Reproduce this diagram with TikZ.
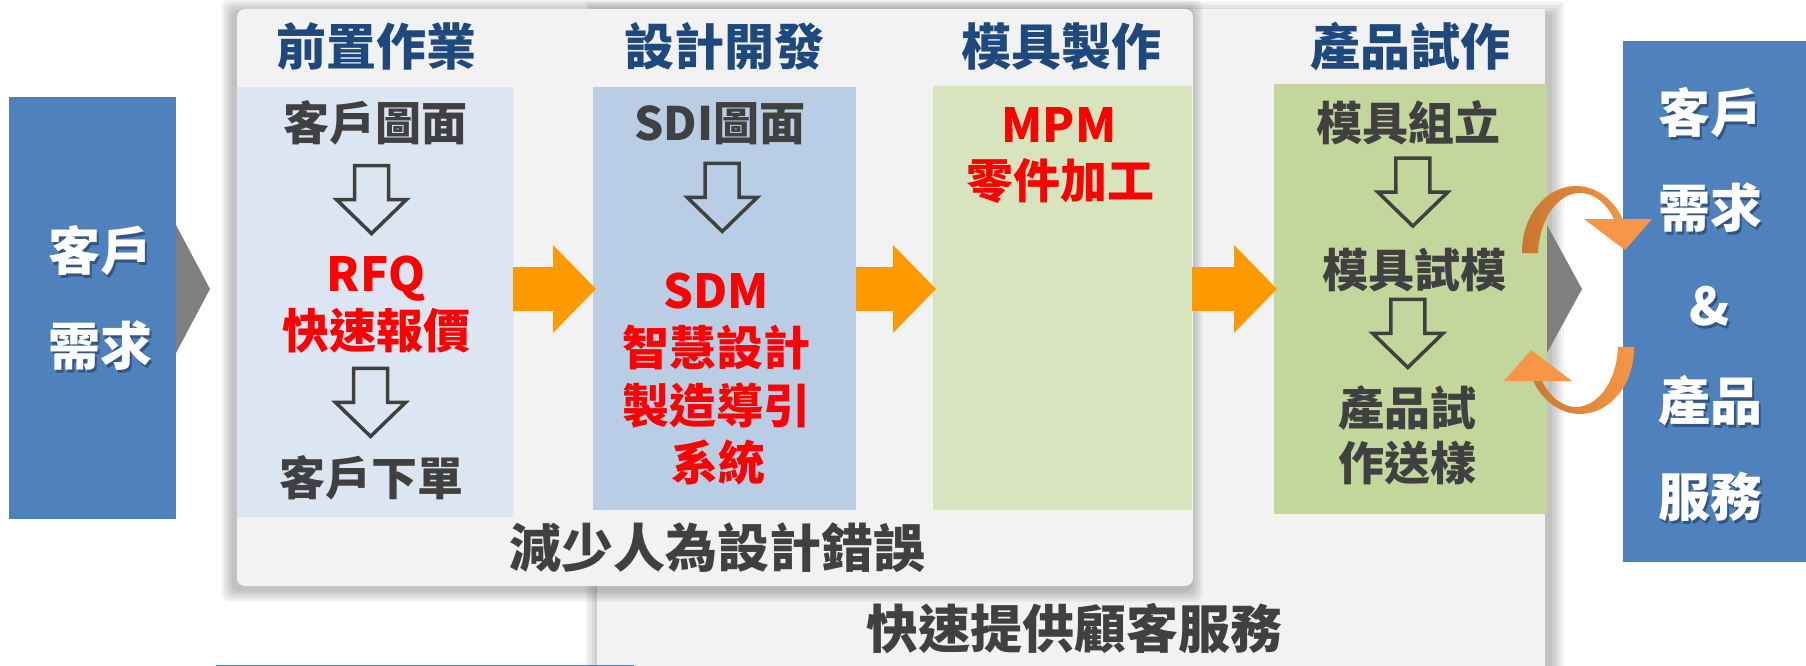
\documentclass[tikz,border=0pt]{standalone}
\usepackage{fontspec}
\setmainfont{Noto Sans CJK TC}
\usetikzlibrary{calc}
\definecolor{panel}{HTML}{F2F2F2}
\definecolor{titleblue}{HTML}{1F497D}
\definecolor{txt}{HTML}{404040}
\definecolor{lbA}{HTML}{DCE6F2}
\definecolor{lbB}{HTML}{B9CDE5}
\definecolor{lgA}{HTML}{D7E4BD}
\definecolor{lgB}{HTML}{C3D69B}
\definecolor{sideblue}{HTML}{4F81BD}
\definecolor{chev}{HTML}{7F7F7F}
\definecolor{arrorange}{HTML}{FF9900}
\definecolor{loopl}{HTML}{F79646}
\definecolor{loopd}{HTML}{C8772F}
\definecolor{redt}{HTML}{FF0000}
\definecolor{lineblue}{HTML}{3C7DD9}
\definecolor{shadowc}{HTML}{1F3050}
\tikzset{
  pics/dnarr/.style={code={
    \draw[draw=txt, line width=3.5pt, line join=miter]
      (-17,-34) -- (17,-34) -- (17,0) -- (35,0) -- (0,34) -- (-35,0) -- (-17,0) -- cycle;
  }},
}
\newcommand{\orarrow}[2]{%
  \fill[arrorange] ($(#1.east|-ay)+(0,-22)$) -- ($(#2.west|-ay)+(-40,-22)$) -- ($(#2.west|-ay)+(-40,-44)$)
    -- ($(#2.west|-ay)+(3,0)$) -- ($(#2.west|-ay)+(-40,44)$) -- ($(#2.west|-ay)+(-40,22)$)
    -- ($(#1.east|-ay)+(0,22)$) -- cycle;}
\newcommand{\looparc}{%
  \begin{scope}
    \clip (1500,140) -- (1665,140) -- (1665,219) -- (1578,219) -- (1578,253) -- (1500,253) -- cycle;
    \shade[left color=loopd, middle color=loopd!55!loopl, right color=loopl, even odd rule]
      (1576,252) ellipse[x radius=54, y radius=66] (1580,256) ellipse[x radius=42, y radius=63];
  \end{scope}
  \fill[loopl] (1584,219) -- (1652,219) -- (1625,250) -- cycle;}
\begin{document}
\begin{tikzpicture}[x=1pt,y=-1pt,
  every node/.style={inner sep=0pt, outer sep=0pt},
  tx/.style={anchor=center},
  title/.style={tx, text height=43pt, text depth=6pt, font=\fontsize{50}{56}\selectfont\bfseries, text=titleblue},
  body/.style={tx, text height=39.6pt, text depth=5.5pt, font=\fontsize{46}{52}\selectfont\bfseries, text=txt},
  hot/.style={tx, text height=40.4pt, text depth=5.6pt, font=\fontsize{47}{53}\selectfont\bfseries, text=redt},
  side/.style={tx, text height=44.7pt, text depth=6.2pt, font=\fontsize{52}{58}\selectfont\bfseries, text=white},
  sideshadow/.style={side, text=shadowc, opacity=0.55},
  big/.style={tx, text height=44.7pt, text depth=6.2pt, font=\fontsize{52}{58}\selectfont\bfseries, text=txt},
  box/.style={anchor=north west, draw=none},
]
\useasboundingbox (0,0) rectangle (1806,666);
\fill[white] (0,0) rectangle (1806,666);
\coordinate (ay) at (0,289);

% lower panel with shadow
\foreach \i in {1,...,5}{
  \fill[black,opacity=0.05] (601-3*\i, 17-3*\i) rectangle (1549+3*\i, 700);
}
\node[box, fill=panel, minimum width=948, minimum height=700] (lower) at (597,9) {};

% upper panel with shadow
\foreach \i in {1,...,5}{
  \fill[black,opacity=0.05,rounded corners=8] (234-2.5*\i, 12-2.5*\i) rectangle (1190+2.5*\i, 589+2.5*\i);
}
\node[box, fill=panel, rounded corners=8, minimum width=956, minimum height=577] (upper) at (237,9) {};

% chevrons
\fill[chev] (168,225) -- (176,225) -- (210,289) -- (176,353) -- (168,353) -- cycle;
\fill[chev] (1547,225) -- (1582,289) -- (1547,353) -- cycle;

% side boxes
\node[box, fill=sideblue, minimum width=167, minimum height=422] (cust) at (9,97) {};
\node[box, fill=sideblue, minimum width=183, minimum height=521] (serv) at (1623,41) {};

% stage boxes
\node[box, fill=lbA, minimum width=276, minimum height=430] (b1) at (237,87) {};
\node[box, fill=lbB, minimum width=263, minimum height=423] (b2) at (593,87) {};
\node[box, fill=lgA, minimum width=259, minimum height=424] (b3) at (933,86) {};
\node[box, fill=lgB, minimum width=273, minimum height=430] (b4) at (1274,84) {};

% titles
\node[title] (h1) at (376,47) {前置作業};
\node[title] (h2) at (724,47) {設計開發};
\node[title] (h3) at (1061,47) {模具製作};
\node[title] (h4) at (1410,47) {產品試作};

% box 1
\node[body] (a1) at (375,123) {客戶圖面};
\node[hot] (a2) at (376,274) {RFQ};
\node[hot] (a3) at (376,331) {快速報價};
\node[body] (a4) at (371,478) {客戶下單};
\pic at ($(a1)!0.507!(a2)+(-4,0)$) {dnarr};
\pic at ($(a3)!0.486!(a4)+(-3,0)$) {dnarr};

% box 2
\node[body] (c1) at (720,123) {SDI圖面};
\node[hot] (c2) at (716,291) {SDM};
\node[hot] (c3) at (716,348) {智慧設計};
\node[hot] (c4) at (716,406) {製造導引};
\node[hot] (c5) at (718,463) {系統};
\pic at ($(c1)!0.443!(c2)+(4,0)$) {dnarr};

% box 3
\node[hot] (d1) at (1059,125) {MPM};
\node[hot] (d2) at (1060,181) {零件加工};

% box 4
\node[body] (e1) at (1408,123) {模具組立};
\node[body] (e2) at (1414,270) {模具試模};
\node[body] (e3) at (1407,408) {產品試};
\node[body] (e4) at (1407,463) {作送樣};
\pic at ($(e1)!0.47!(e2)+(2,0)$) {dnarr};
\pic at ($(e2)!0.46!(e3)+(-3,0)$) {dnarr};

% bottom captions
\node[big] (cap1) at (717,548) {減少人為設計錯誤};
\node[big] (cap2) at (1074,629) {快速提供顧客服務};

% side texts
\foreach \t/\yy in {客戶/251, 需求/346}{
  \node[sideshadow] at (102,\yy+3) {\t};
}
\node[side] (s1) at (100,251) {客戶};
\node[side] (s2) at (100,346) {需求};
\foreach \t/\yy in {客戶/113, 需求/208, \&/306, 產品/401, 服務/497}{
  \node[sideshadow] at (1712,\yy+3) {\t};
}
\node[side] (r1) at (1710,113) {客戶};
\node[side] (r2) at (1710,208) {需求};
\node[side] (r3) at (1710,306) {\&};
\node[side] (r4) at (1710,401) {產品};
\node[side] (r5) at (1710,497) {服務};

% orange block arrows
\orarrow{b1}{b2}
\orarrow{b2}{b3}
\orarrow{b3}{b4}

% circular arrows
\looparc
\begin{scope}[rotate around={180:(1578,300)}]
\looparc
\end{scope}

% cut-off line at bottom
\draw[lineblue, line width=2pt] (216,665.5) -- (634,665.5);
\end{tikzpicture}
\end{document}
